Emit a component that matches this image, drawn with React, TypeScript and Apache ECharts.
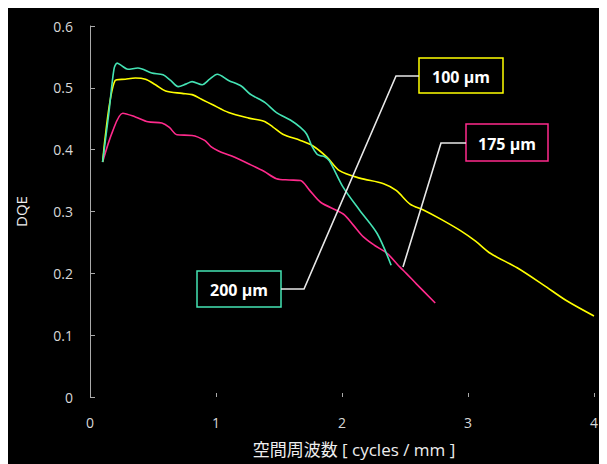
import React, { useEffect, useRef } from "react";
import * as echarts from "echarts";

const xTicks = [0, 1, 2, 3, 4];
const yTickLabels = ["0", "0.1", "0.2", "0.3", "0.4", "0.5", "0.6"];

const freq200 = [0.10, 0.15, 0.19, 0.215, 0.25, 0.30, 0.38, 0.49, 0.58, 0.64, 0.70, 0.76, 0.81, 0.89, 0.95, 1.01, 1.10, 1.20, 1.27, 1.39, 1.48, 1.59, 1.67, 1.72, 1.76, 1.80, 1.83, 1.86, 1.90, 2.01, 2.14, 2.28, 2.39];
const dqe200 = [0.380, 0.460, 0.530, 0.540, 0.536, 0.530, 0.532, 0.524, 0.521, 0.512, 0.502, 0.506, 0.510, 0.505, 0.514, 0.522, 0.512, 0.503, 0.490, 0.476, 0.460, 0.448, 0.436, 0.425, 0.406, 0.393, 0.390, 0.389, 0.382, 0.339, 0.302, 0.264, 0.213];

const freq100 = [0.10, 0.20, 0.28, 0.36, 0.44, 0.52, 0.60, 0.73, 0.81, 0.90, 0.97, 1.10, 1.26, 1.38, 1.45, 1.53, 1.67, 1.77, 1.88, 1.98, 2.14, 2.33, 2.43, 2.54, 2.65, 2.78, 2.94, 3.06, 3.18, 3.39, 3.60, 3.78, 4.00];
const dqe100 = [0.380, 0.512, 0.514, 0.516, 0.514, 0.505, 0.495, 0.491, 0.489, 0.480, 0.473, 0.460, 0.451, 0.446, 0.437, 0.425, 0.415, 0.406, 0.388, 0.366, 0.354, 0.345, 0.334, 0.312, 0.302, 0.288, 0.269, 0.252, 0.232, 0.209, 0.181, 0.156, 0.131];

const freq175 = [0.10, 0.18, 0.26, 0.36, 0.46, 0.57, 0.63, 0.69, 0.81, 0.91, 0.96, 1.02, 1.12, 1.27, 1.38, 1.48, 1.58, 1.67, 1.74, 1.83, 2.01, 2.09, 2.17, 2.26, 2.36, 2.46, 2.51, 2.59, 2.74];
const dqe175 = [0.380, 0.430, 0.459, 0.453, 0.445, 0.443, 0.436, 0.424, 0.423, 0.415, 0.405, 0.398, 0.390, 0.376, 0.365, 0.353, 0.351, 0.350, 0.335, 0.315, 0.296, 0.278, 0.259, 0.245, 0.232, 0.210, 0.200, 0.183, 0.152];

const seriesNames = ["200 µm", "100 µm", "175 µm"];
const seriesColors = ["#44e3b4", "#ffff00", "#ff2a8c"];

const zip = (xs: number[], ys: number[]) => xs.map((x, i) => [x, ys[i]]);

const FONT = "'Open Sans', 'Noto Sans CJK JP', sans-serif";

export default function App() {
  const ref = useRef<HTMLDivElement>(null);
  useEffect(() => {
    if (!ref.current) return;
    const chart = echarts.init(ref.current, undefined, { renderer: "svg" });
    const datasets = [zip(freq200, dqe200), zip(freq100, dqe100), zip(freq175, dqe175)];
    const box = (x: number, y: number, w: number, h: number, color: string, label: string) => ({
      type: "group",
      children: [
        { type: "rect", shape: { x, y, width: w, height: h }, style: { fill: "#000", stroke: color, lineWidth: 1.5 } },
        {
          type: "text",
          x: x + w / 2,
          y: y + h / 2 + 1,
          style: { text: label, fill: "#ffffff", font: `bold 16px ${FONT}`, align: "center", verticalAlign: "middle" },
        },
      ],
    });
    chart.setOption({
      animation: false,
      backgroundColor: "#000000",
      grid: { left: 82, top: 18, right: 21, bottom: 75, containLabel: false, outerBoundsMode: "none" },
      xAxis: {
        type: "value",
        min: 0,
        max: 4,
        interval: 1,
        name: "空間周波数 [ cycles / mm ]",
        nameLocation: "middle",
        nameGap: 44,
        nameTextStyle: { color: "#eeeeee", fontSize: 17, fontFamily: FONT, padding: [0, 0, 0, 24] },
        axisLine: { show: false },
        axisTick: { show: true, inside: true, length: 4, lineStyle: { color: "#aaaaaa" } },
        axisLabel: {
          color: "#d8d8d8",
          fontSize: 14,
          fontFamily: FONT,
          margin: 18,
          formatter: (v: number) => String(xTicks.find((t) => Math.abs(t - v) < 1e-6) ?? v),
        },
        splitLine: { show: false },
      },
      yAxis: {
        type: "value",
        min: 0,
        max: 0.6,
        interval: 0.1,
        name: "DQE",
        nameLocation: "middle",
        nameGap: 62,
        nameRotate: 90,
        nameTextStyle: { color: "#eeeeee", fontSize: 15, fontFamily: FONT },
        axisLine: { show: true, lineStyle: { color: "#aaaaaa", width: 1 } },
        axisTick: { show: true, inside: true, length: 5, lineStyle: { color: "#aaaaaa" } },
        axisLabel: {
          color: "#d8d8d8",
          fontSize: 14,
          fontFamily: FONT,
          margin: 17,
          formatter: (v: number) => yTickLabels[Math.round(v * 10)] ?? String(v),
        },
        splitLine: { show: false },
      },
      series: datasets.map((d, i) => ({
        type: "line",
        name: seriesNames[i],
        data: d,
        showSymbol: false,
        smooth: 0.3,
        lineStyle: { color: seriesColors[i], width: 1.6 },
        z: 3 - i,
      })),
      graphic: [
        { type: "polyline", shape: { points: [[411, 68], [388, 68], [296, 281], [273, 281]] }, style: { stroke: "#e8e8e8", lineWidth: 1.6, fill: null }, z: 10 },
        { type: "polyline", shape: { points: [[458, 135], [433, 135], [395, 259]] }, style: { stroke: "#e8e8e8", lineWidth: 1.6, fill: null }, z: 10 },
        { ...box(411, 50, 84, 35, "#ffff00", "100 µm"), z: 11 },
        { ...box(458, 116, 82, 37, "#ff2a8c", "175 µm"), z: 11 },
        { ...box(189, 263, 84, 36, "#44e3b4", "200 µm"), z: 11 },
      ],
    });
    return () => chart.dispose();
  }, []);
  return <div ref={ref} style={{ width: 607, height: 464, background: "#000" }} />;
}
